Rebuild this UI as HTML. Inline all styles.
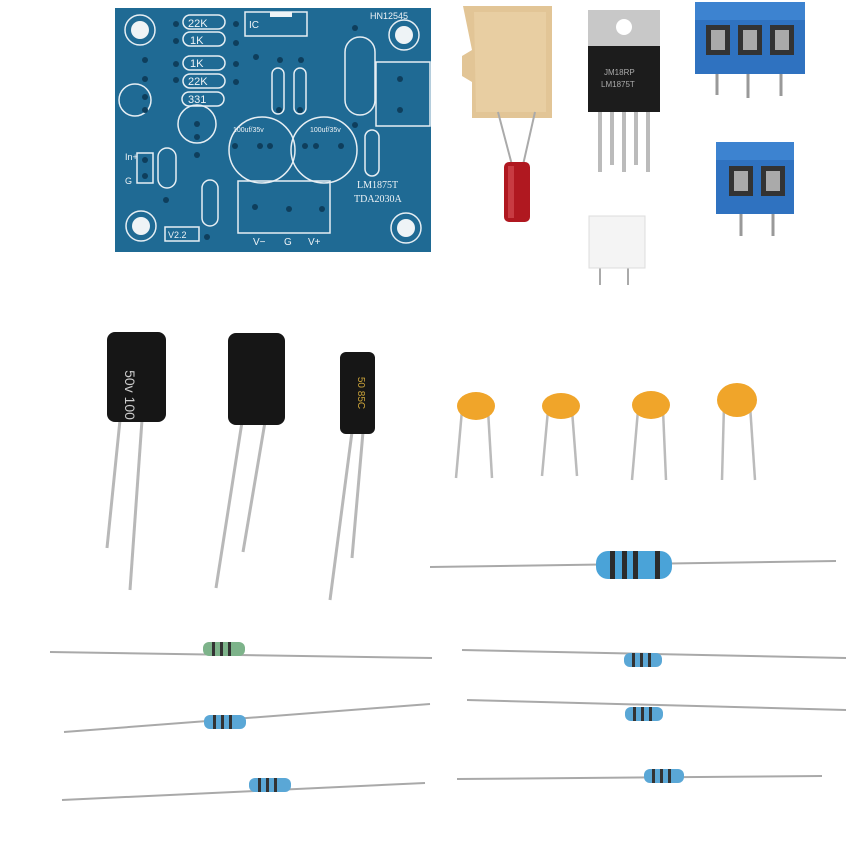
<!DOCTYPE html>
<html><head><style>html,body{margin:0;padding:0;background:#fff}svg{display:block}</style></head><body>
<svg width="850" height="854" viewBox="0 0 850 854" xmlns="http://www.w3.org/2000/svg" font-family="Liberation Sans, sans-serif">
<rect width="850" height="854" fill="#fff"/>
<!-- PCB -->
<rect x="115" y="8" width="316" height="244" fill="#1f6a94"/>
<g fill="none" stroke="#e6eef3" stroke-width="1.5">
<circle cx="140" cy="30" r="15"/><circle cx="404" cy="35" r="15"/><circle cx="141" cy="226" r="15"/><circle cx="406" cy="228" r="15"/>
<rect x="183" y="15" width="42" height="14" rx="7"/><rect x="183" y="32" width="42" height="14" rx="7"/><rect x="183" y="56" width="42" height="14" rx="7"/><rect x="183" y="74" width="42" height="14" rx="7"/><rect x="182" y="92" width="42" height="14" rx="7"/>
<rect x="272" y="68" width="12" height="46" rx="6"/><rect x="294" y="68" width="12" height="46" rx="6"/>
<rect x="345" y="37" width="30" height="78" rx="15"/>
<rect x="376" y="62" width="54" height="64"/>
<circle cx="262" cy="150" r="33"/><circle cx="324" cy="150" r="33"/>
<circle cx="197" cy="124" r="19"/><circle cx="135" cy="100" r="16"/>
<rect x="158" y="148" width="18" height="40" rx="9"/>
<rect x="202" y="180" width="16" height="46" rx="8"/>
<rect x="365" y="130" width="14" height="46" rx="7"/>
<rect x="238" y="181" width="92" height="52"/>
<rect x="137" y="153" width="16" height="30"/>
<rect x="165" y="227" width="34" height="14"/>
<rect x="245" y="12" width="62" height="24"/>
</g>
<g fill="#eef3f6"><circle cx="140" cy="30" r="9"/><circle cx="404" cy="35" r="9"/><circle cx="141" cy="226" r="9"/><circle cx="406" cy="228" r="9"/>
<rect x="270" y="12" width="22" height="5"/></g>
<g fill="#0e3e5c">
<circle cx="176" cy="24" r="3"/><circle cx="236" cy="24" r="3"/><circle cx="176" cy="41" r="3"/><circle cx="236" cy="43" r="3"/><circle cx="176" cy="64" r="3"/><circle cx="236" cy="64" r="3"/><circle cx="176" cy="80" r="3"/><circle cx="236" cy="82" r="3"/>
<circle cx="256" cy="57" r="3"/><circle cx="280" cy="60" r="3"/><circle cx="301" cy="60" r="3"/><circle cx="279" cy="110" r="3"/><circle cx="300" cy="110" r="3"/>
<circle cx="355" cy="28" r="3"/><circle cx="355" cy="125" r="3"/><circle cx="400" cy="79" r="3"/><circle cx="400" cy="110" r="3"/>
<circle cx="235" cy="146" r="3"/><circle cx="260" cy="146" r="3"/><circle cx="270" cy="146" r="3"/><circle cx="305" cy="146" r="3"/><circle cx="316" cy="146" r="3"/><circle cx="341" cy="146" r="3"/>
<circle cx="255" cy="207" r="3"/><circle cx="289" cy="209" r="3"/><circle cx="322" cy="209" r="3"/>
<circle cx="145" cy="160" r="3"/><circle cx="145" cy="176" r="3"/><circle cx="145" cy="60" r="3"/><circle cx="145" cy="79" r="3"/><circle cx="145" cy="97" r="3"/><circle cx="145" cy="110" r="3"/>
<circle cx="197" cy="124" r="3"/><circle cx="197" cy="137" r="3"/><circle cx="197" cy="155" r="3"/><circle cx="166" cy="200" r="3"/><circle cx="207" cy="237" r="3"/>
</g>
<g fill="#eef3f6" font-size="11">
<text x="188" y="27">22K</text><text x="190" y="44">1K</text><text x="190" y="67">1K</text><text x="188" y="85">22K</text><text x="188" y="103">331</text>
<text x="249" y="28" font-size="10">IC</text><text x="370" y="19" font-size="9">HN12545</text>
<text x="233" y="132" font-size="7">100uf/35v</text><text x="310" y="132" font-size="7">100uf/35v</text>
<text x="357" y="188" font-size="10" font-family="Liberation Serif, serif">LM1875T</text>
<text x="354" y="202" font-size="10" font-family="Liberation Serif, serif">TDA2030A</text>
<text x="253" y="245" font-size="10">V−</text><text x="284" y="245" font-size="10">G</text><text x="308" y="245" font-size="10">V+</text>
<text x="168" y="238" font-size="9">V2.2</text><text x="125" y="160" font-size="9">In+</text><text x="125" y="184" font-size="9">G</text>
</g>
<!-- heat pad -->
<path d="M463 6 H552 V118 H472 V82 L462 76 V56 L472 50 Z" fill="#e2c596"/>
<path d="M474 12 H546 V112 H476 Z" fill="#ecd4aa" opacity=".6"/>
<line x1="498" y1="112" x2="512" y2="165" stroke="#aaa" stroke-width="2"/><line x1="535" y1="112" x2="523" y2="165" stroke="#aaa" stroke-width="2"/>
<rect x="504" y="162" width="26" height="60" rx="5" fill="#b01820"/>
<rect x="508" y="166" width="6" height="52" fill="#d8545a" opacity=".6"/>
<!-- TO-220 -->
<rect x="588" y="10" width="72" height="38" fill="#c8c8c8"/>
<circle cx="624" cy="27" r="8" fill="#fff"/>
<rect x="588" y="46" width="72" height="66" fill="#1c1c1c"/>
<text x="604" y="75" font-size="8" fill="#aaa">JM18RP</text><text x="601" y="87" font-size="8" fill="#aaa">LM1875T</text>
<g stroke="#bbb" stroke-width="4"><line x1="600" y1="112" x2="600" y2="172"/><line x1="612" y1="112" x2="612" y2="165"/><line x1="624" y1="112" x2="624" y2="172"/><line x1="636" y1="112" x2="636" y2="165"/><line x1="648" y1="112" x2="648" y2="172"/></g>
<!-- terminal blocks -->
<g stroke="#999" stroke-width="3"><line x1="717" y1="70" x2="717" y2="95"/><line x1="748" y1="70" x2="748" y2="98"/><line x1="781" y1="70" x2="781" y2="96"/><line x1="741" y1="210" x2="741" y2="236"/><line x1="773" y1="210" x2="773" y2="236"/></g>
<rect x="695" y="2" width="110" height="72" fill="#2f72c0"/>
<rect x="695" y="2" width="110" height="18" fill="#3d83d0"/>
<g fill="#333"><rect x="706" y="25" width="24" height="30"/><rect x="738" y="25" width="24" height="30"/><rect x="770" y="25" width="24" height="30"/></g>
<g fill="#aaa"><rect x="711" y="30" width="14" height="20"/><rect x="743" y="30" width="14" height="20"/><rect x="775" y="30" width="14" height="20"/></g>
<rect x="716" y="142" width="78" height="72" fill="#2f72c0"/>
<rect x="716" y="142" width="78" height="18" fill="#3d83d0"/>
<g fill="#333"><rect x="729" y="166" width="24" height="30"/><rect x="761" y="166" width="24" height="30"/></g>
<g fill="#aaa"><rect x="734" y="171" width="14" height="20"/><rect x="766" y="171" width="14" height="20"/></g>
<!-- white connector -->
<g stroke="#aaa" stroke-width="2"><line x1="600" y1="265" x2="600" y2="285"/><line x1="628" y1="265" x2="628" y2="285"/></g>
<rect x="589" y="216" width="56" height="52" fill="#f4f4f4" stroke="#ddd"/>
<!-- electrolytic caps -->
<g stroke="#b8b8b8" stroke-width="3" fill="none">
<path d="M120 420 L107 548"/><path d="M142 420 L130 590"/>
<path d="M242 422 L216 588"/><path d="M265 422 L243 552"/>
<path d="M352 432 L330 600"/><path d="M363 432 L352 558"/>
</g>
<rect x="107" y="332" width="59" height="90" rx="8" fill="#161616"/>
<text x="125" y="395" font-size="14" fill="#ccc" transform="rotate(90 125 395)" text-anchor="middle">50v 100</text>
<rect x="228" y="333" width="57" height="92" rx="8" fill="#161616"/>
<rect x="340" y="352" width="35" height="82" rx="6" fill="#161616"/>
<text x="358" y="393" font-size="10" fill="#c9a23a" transform="rotate(90 358 393)" text-anchor="middle">50 85C</text>
<!-- ceramic caps -->
<g stroke="#bbb" stroke-width="2.5">
<line x1="462" y1="410" x2="456" y2="478"/><line x1="488" y1="410" x2="492" y2="478"/>
<line x1="548" y1="410" x2="542" y2="476"/><line x1="572" y1="410" x2="577" y2="476"/>
<line x1="638" y1="410" x2="632" y2="480"/><line x1="663" y1="410" x2="666" y2="480"/>
<line x1="724" y1="405" x2="722" y2="480"/><line x1="750" y1="405" x2="755" y2="480"/>
</g>
<g fill="#f0a52a">
<ellipse cx="476" cy="406" rx="19" ry="14"/><ellipse cx="561" cy="406" rx="19" ry="13"/><ellipse cx="651" cy="405" rx="19" ry="14"/><ellipse cx="737" cy="400" rx="20" ry="17"/>
</g>
<!-- resistors wires -->
<g stroke="#a9a9a9" stroke-width="2" fill="none">
<line x1="430" y1="567" x2="836" y2="561"/>
<line x1="50" y1="652" x2="432" y2="658"/>
<line x1="64" y1="732" x2="430" y2="704"/>
<line x1="62" y1="800" x2="425" y2="783"/>
<line x1="462" y1="650" x2="846" y2="658"/>
<line x1="467" y1="700" x2="846" y2="710"/>
<line x1="457" y1="779" x2="822" y2="776"/>
</g>
<rect x="596" y="551" width="76" height="28" rx="12" fill="#4aa3d8"/>
<g fill="#2b2b2b"><rect x="610" y="551" width="5" height="28"/><rect x="622" y="551" width="5" height="28"/><rect x="633" y="551" width="5" height="28"/><rect x="655" y="551" width="5" height="28"/></g>
<g>
<rect x="203" y="642" width="42" height="14" rx="6" fill="#7db38a"/>
<rect x="204" y="715" width="42" height="14" rx="6" fill="#5aa7d6"/>
<rect x="249" y="778" width="42" height="14" rx="6" fill="#5aa7d6"/>
<rect x="624" y="653" width="38" height="14" rx="6" fill="#5aa7d6"/>
<rect x="625" y="707" width="38" height="14" rx="6" fill="#5aa7d6"/>
<rect x="644" y="769" width="40" height="14" rx="6" fill="#5aa7d6"/>
</g>
<g fill="#333">
<rect x="212" y="642" width="3" height="14"/><rect x="220" y="642" width="3" height="14"/><rect x="228" y="642" width="3" height="14"/>
<rect x="213" y="715" width="3" height="14"/><rect x="221" y="715" width="3" height="14"/><rect x="229" y="715" width="3" height="14"/>
<rect x="258" y="778" width="3" height="14"/><rect x="266" y="778" width="3" height="14"/><rect x="274" y="778" width="3" height="14"/>
<rect x="632" y="653" width="3" height="14"/><rect x="640" y="653" width="3" height="14"/><rect x="648" y="653" width="3" height="14"/>
<rect x="633" y="707" width="3" height="14"/><rect x="641" y="707" width="3" height="14"/><rect x="649" y="707" width="3" height="14"/>
<rect x="652" y="769" width="3" height="14"/><rect x="660" y="769" width="3" height="14"/><rect x="668" y="769" width="3" height="14"/>
</g>
</svg>
</body></html>
